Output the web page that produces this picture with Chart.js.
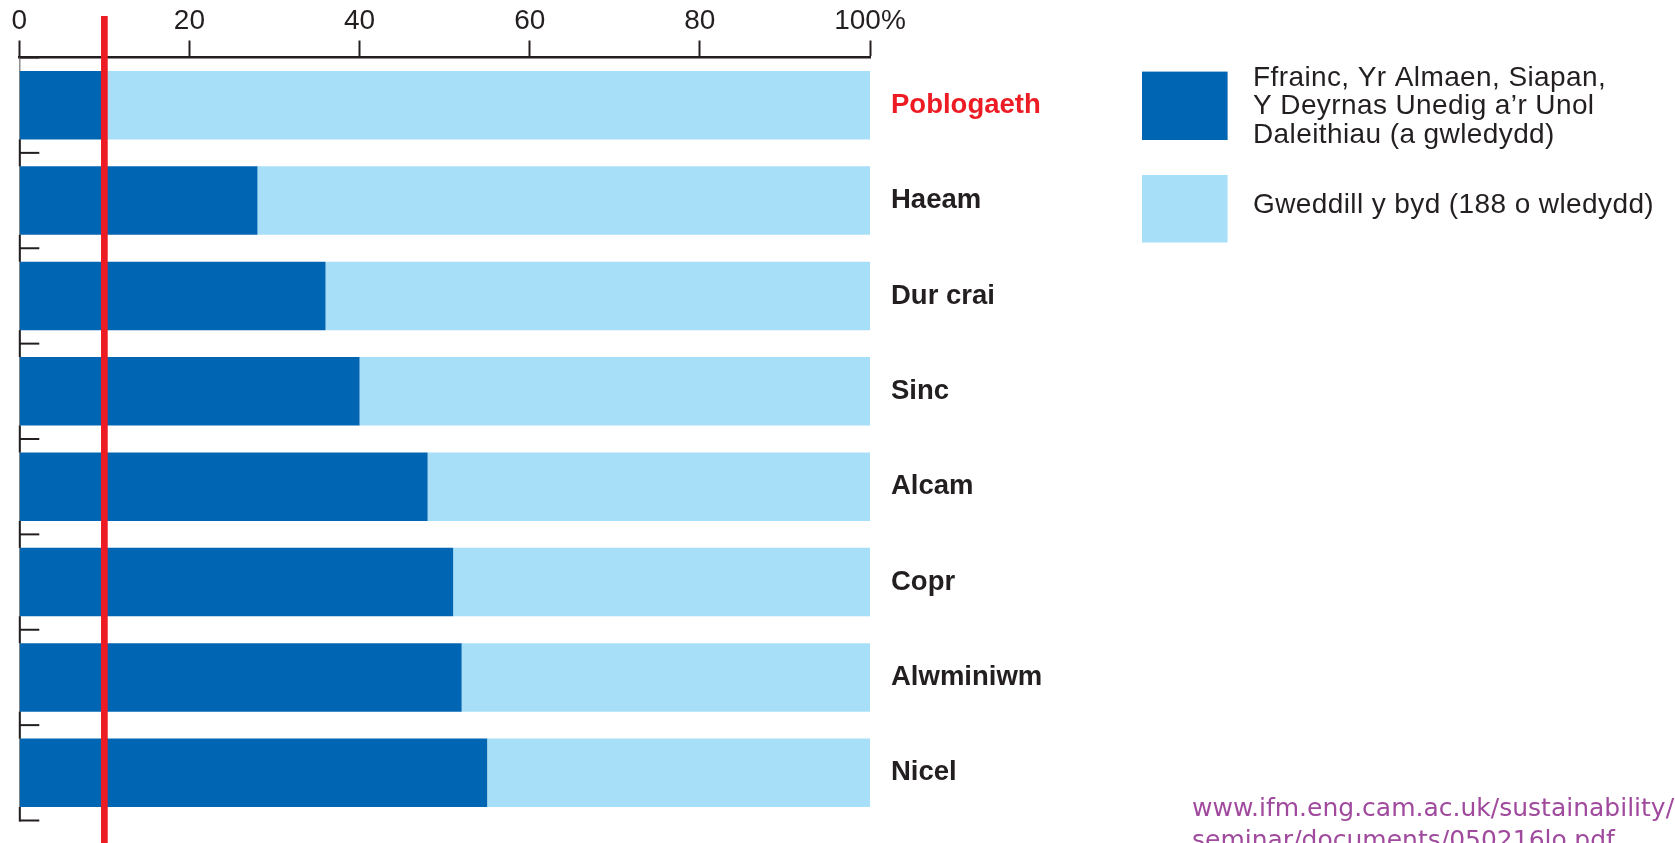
<!DOCTYPE html>
<html><head><meta charset="utf-8">
<script src="https://cdn.jsdelivr.net/npm/chart.js@4/dist/chart.umd.min.js"></script>
<style>html,body{margin:0;padding:0;background:#fff;overflow:hidden}#wrap{width:1675px;height:843px;position:relative}</style>
</head><body><div id="wrap"><canvas id="c" width="1675" height="843"></canvas></div>
<script>
const categories = ['Poblogaeth', 'Haeam', 'Dur crai', 'Sinc', 'Alcam', 'Copr', 'Alwminiwm', 'Nicel'];
const richFiveShare = [10, 28, 36, 40, 48, 51, 52, 55];
const restOfWorldShare = [90, 72, 64, 60, 52, 49, 48, 45];
const seriesLabels = [
  ['Ffrainc, Yr Almaen, Siapan,', 'Y Deyrnas Unedig a’r Unol', 'Daleithiau (a gwledydd)'],
  ['Gweddill y byd (188 o wledydd)']
];
const xTickMax = 100;
const xTickStep = 20;
const markerValue = 10;
const sourceLines = ['www.ifm.eng.cam.ac.uk/sustainability/', 'seminar/documents/050216lo.pdf'];

const DARK = '#0066b3', LIGHT = '#a8dff8', RED = '#ed1c24', INK = '#231f20', PURPLE = '#a04a9e';
const FONT = "'Liberation Sans', Arial, sans-serif";

const decor = {
  id: 'decor',
  afterDraw(chart) {
    const ctx = chart.ctx;
    const ys = chart.scales.y, xs = chart.scales.x;
    const n = categories.length;
    const step = (ys.bottom - ys.top) / n;
    const barH = chart.getDatasetMeta(0).data[0].height;
    const gap = step - barH;
    const left = chart.chartArea.left;
    ctx.save();
    ctx.strokeStyle = INK;
    ctx.lineWidth = 2;
    for (let i = 0; i <= n; i++) {
      let yb;
      if (i === 0) yb = ys.top;
      else if (i === n) yb = ys.bottom;
      else yb = (ys.getPixelForValue(i - 1) + ys.getPixelForValue(i)) / 2;
      ctx.beginPath();
      ctx.moveTo(left, yb);
      ctx.lineTo(left + 20, yb);
      ctx.stroke();
      if (i > 0) {
        ctx.beginPath();
        ctx.moveTo(left + 0.5, yb - gap / 2);
        ctx.lineTo(left + 0.5, i === n ? yb + 1 : yb + gap / 2);
        ctx.stroke();
      }
    }
    // marker line
    const mx = xs.getPixelForValue(markerValue);
    ctx.strokeStyle = RED;
    ctx.lineWidth = 6.7;
    ctx.beginPath();
    ctx.moveTo(mx, 16);
    ctx.lineTo(mx, chart.height);
    ctx.stroke();

    // legend
    const boxes = [[1142, 71.6, 85.6, 68.4], [1142, 175, 85.6, 67.5]];
    const baselines = [[85.7, 114.2, 142.7], [213]];
    chart.data.datasets.forEach((ds, k) => {
      const b = boxes[k];
      ctx.fillStyle = ds.backgroundColor;
      ctx.fillRect(b[0], b[1], b[2], b[3]);
      ctx.fillStyle = INK;
      ctx.font = '400 28px ' + FONT;
      ctx.letterSpacing = '0.4px';
      ctx.textAlign = 'left';
      ctx.textBaseline = 'alphabetic';
      seriesLabels[k].forEach((line, j) => ctx.fillText(line, 1253, baselines[k][j]));
    });
    ctx.letterSpacing = '0px';

    // source
    ctx.fillStyle = PURPLE;
    ctx.font = "400 25px 'DejaVu Sans', sans-serif";
    ctx.fillText(sourceLines[0], 1192, 815.7);
    ctx.fillText(sourceLines[1], 1192, 848);
    ctx.restore();
  }
};

const noPad = s => { s.paddingTop = 0; s.paddingBottom = 0; };

new Chart(document.getElementById('c'), {
  type: 'bar',
  data: {
    labels: categories,
    datasets: [
      { label: seriesLabels[0].join(' '), data: richFiveShare, backgroundColor: DARK, borderWidth: 0 },
      { label: seriesLabels[1].join(' '), data: restOfWorldShare, backgroundColor: LIGHT, borderWidth: 0 }
    ]
  },
  options: {
    indexAxis: 'y',
    responsive: false,
    devicePixelRatio: 1,
    animation: false,
    layout: { padding: { top: 0, left: 0, right: 0, bottom: 22.5 } },
    datasets: { bar: { barPercentage: 0.717, categoryPercentage: 1 } },
    plugins: { legend: { display: false }, tooltip: { enabled: false } },
    scales: {
      x: {
        type: 'linear', position: 'top', stacked: true, min: 0, max: xTickMax,
        grid: { display: true, drawOnChartArea: false, drawTicks: true, tickLength: 17, tickWidth: 2, tickColor: INK, color: INK },
        border: { display: true, color: INK, width: 2.5 },
        ticks: {
          stepSize: xTickStep, padding: 2, color: INK,
          font: { family: FONT, size: 28, weight: '400' },
          callback: v => v === xTickMax ? v + '%' : String(v)
        },
        afterFit: s => { s.height = 57.5; }
      },
      y: {
        type: 'category', position: 'left', stacked: true,
        grid: { display: false },
        border: { display: true, color: '#8c8c8c', width: 1.5 },
        ticks: { display: false },
        afterFit: s => { s.width = 19.3; noPad(s); }
      },
      y2: {
        type: 'category', position: 'right', labels: categories, offset: true,
        grid: { display: false, drawTicks: false },
        border: { display: false },
        ticks: {
          padding: 21,
          font: { family: FONT, size: 27.5, weight: 'bold' },
          color: c => c.index === 0 ? RED : INK
        },
        afterFit: s => { s.width = 805; noPad(s); }
      }
    }
  },
  plugins: [decor]
});
</script>
</body></html>
